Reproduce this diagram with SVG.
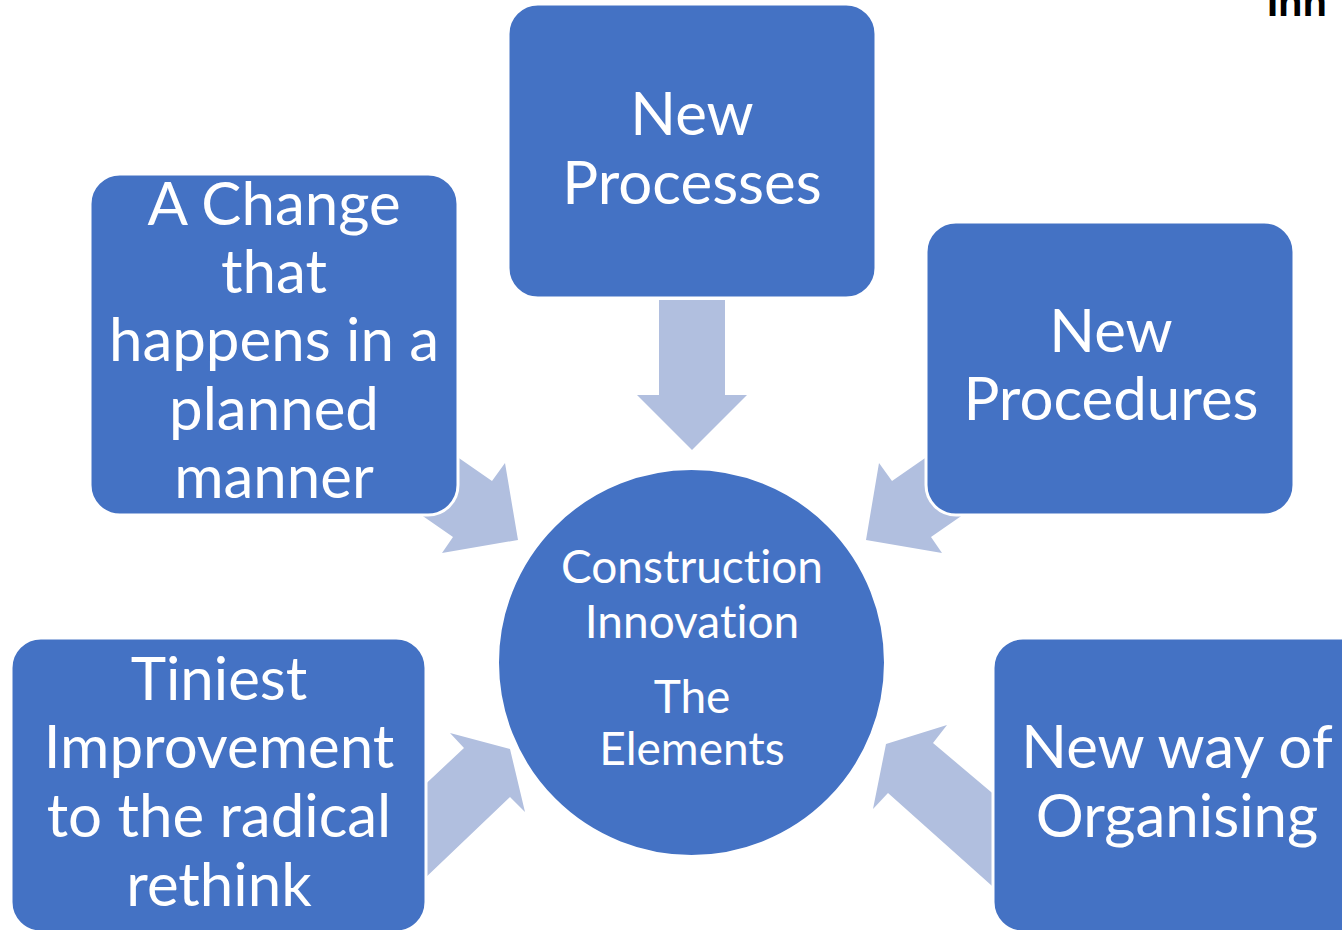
<svg xmlns="http://www.w3.org/2000/svg" width="1342" height="930" viewBox="0 0 1342 930">
<style>
.box{fill:#4472C4;stroke:#FFFFFF;stroke-width:3}
.arr{fill:#B1BFDF}
.t{font-family:Lato,"Open Sans",sans-serif;fill:#FFFFFF;text-anchor:middle;font-size:60px;font-variant-ligatures:none}
.c{font-size:46px}
</style>
<rect width="1342" height="930" fill="#FFFFFF"/>
<text x="1267" y="16" font-family="'Liberation Sans',Arial,sans-serif" font-weight="bold" font-size="40" fill="#000000">Inn</text>
<g id="connectors">
<polygon class="arr" points="659,300 725,300 725,395 747,395 692,450 637,395 659,395"/>
<polygon class="arr" points="443,447 492,481 505,463 518,540 442,553 453,537 404,503"/>
<polygon class="arr" points="941,447 892,481 879,463 866,540 942,553 931,537 980,503"/>
<polygon class="arr" points="450,733 510,749 525,812 510,797 400,902 400,808 464,748"/>
<polygon class="arr" points="947,725 933,743 1010,808 1010,902 888,793 873,809 886,744"/>
</g>
<g id="node-processes">
<rect class="box" x="508" y="4" width="368" height="294" rx="30"/>
<text class="t" x="692" y="135">New</text>
<text class="t" x="692" y="204">Processes</text>
</g>
<g id="node-change">
<rect class="box" x="90" y="174" width="368" height="341" rx="30"/>
<text class="t" x="274" y="225">A Change</text>
<text class="t" x="274" y="293">that</text>
<text class="t" x="274" y="361">happens in a</text>
<text class="t" x="274" y="430">planned</text>
<text class="t" x="274" y="498">manner</text>
</g>
<g id="node-procedures">
<rect class="box" x="926" y="222" width="368" height="293" rx="30"/>
<text class="t" x="1111" y="352">New</text>
<text class="t" x="1111" y="420">Procedures</text>
</g>
<g id="node-tiniest">
<rect class="box" x="11" y="638" width="415" height="294" rx="30"/>
<text class="t" x="219" y="700">Tiniest</text>
<text class="t" x="219" y="768">Improvement</text>
<text class="t" x="219" y="837">to the radical</text>
<text class="t" x="219" y="906">rethink</text>
</g>
<g id="node-organising">
<rect class="box" x="993" y="638" width="415" height="294" rx="30"/>
<text class="t" x="1177" y="768">New way of</text>
<text class="t" x="1177" y="837">Organising</text>
</g>
<g id="node-center">
<circle class="box" cx="691.5" cy="662.5" r="194"/>
<text class="t c" x="692" y="583">Construction</text>
<text class="t c" x="692" y="638">Innovation</text>
<text class="t c" x="692" y="713">The</text>
<text class="t c" x="692" y="765">Elements</text>
</g>
</svg>
